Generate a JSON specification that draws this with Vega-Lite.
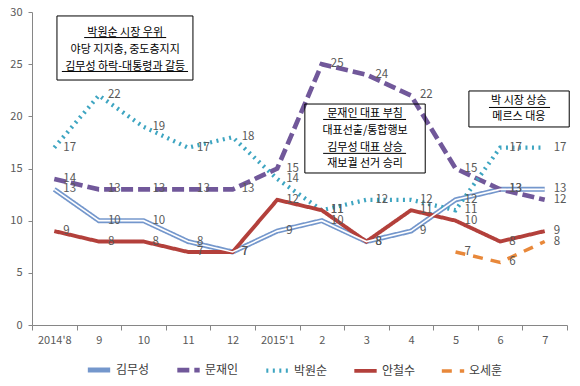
{
  "$schema": "https://vega.github.io/schema/vega-lite/v6.json",
  "width": 535,
  "height": 313,
  "autosize": {"type": "none"},
  "padding": {"left": 32, "top": 12, "right": 13, "bottom": 61},
  "config": {
    "view": {"stroke": null},
    "font": "Noto Sans CJK KR",
    "axis": {"domainColor": "#868686", "tickColor": "#868686", "labelColor": "#595959", "labelFontSize": 11, "grid": false, "labelFont": "Noto Sans CJK KR"},
    "legend": {"labelFont": "Noto Sans CJK KR", "labelFontSize": 12, "labelColor": "#404040", "symbolType": "stroke", "symbolSize": 500, "symbolStrokeWidth": 3, "columnPadding": 18, "labelOffset": 3, "orient": "none", "legendX": 53, "legendY": 344, "direction": "horizontal"}
  },
  "datasets": {
    "polls": [
      {"series": "김무성", "month": "2014'8", "value": 13}, {"series": "김무성", "month": "9", "value": 10}, {"series": "김무성", "month": "10", "value": 10}, {"series": "김무성", "month": "11", "value": 8}, {"series": "김무성", "month": "12", "value": 7}, {"series": "김무성", "month": "2015'1", "value": 9}, {"series": "김무성", "month": "2", "value": 10}, {"series": "김무성", "month": "3", "value": 8}, {"series": "김무성", "month": "4", "value": 9}, {"series": "김무성", "month": "5", "value": 12}, {"series": "김무성", "month": "6", "value": 13}, {"series": "김무성", "month": "7", "value": 13},
      {"series": "문재인", "month": "2014'8", "value": 14}, {"series": "문재인", "month": "9", "value": 13}, {"series": "문재인", "month": "10", "value": 13}, {"series": "문재인", "month": "11", "value": 13}, {"series": "문재인", "month": "12", "value": 13}, {"series": "문재인", "month": "2015'1", "value": 15}, {"series": "문재인", "month": "2", "value": 25}, {"series": "문재인", "month": "3", "value": 24}, {"series": "문재인", "month": "4", "value": 22}, {"series": "문재인", "month": "5", "value": 15}, {"series": "문재인", "month": "6", "value": 13}, {"series": "문재인", "month": "7", "value": 12},
      {"series": "박원순", "month": "2014'8", "value": 17}, {"series": "박원순", "month": "9", "value": 22}, {"series": "박원순", "month": "10", "value": 19}, {"series": "박원순", "month": "11", "value": 17}, {"series": "박원순", "month": "12", "value": 18}, {"series": "박원순", "month": "2015'1", "value": 14}, {"series": "박원순", "month": "2", "value": 11}, {"series": "박원순", "month": "3", "value": 12}, {"series": "박원순", "month": "4", "value": 12}, {"series": "박원순", "month": "5", "value": 11}, {"series": "박원순", "month": "6", "value": 17}, {"series": "박원순", "month": "7", "value": 17},
      {"series": "안철수", "month": "2014'8", "value": 9}, {"series": "안철수", "month": "9", "value": 8}, {"series": "안철수", "month": "10", "value": 8}, {"series": "안철수", "month": "11", "value": 7}, {"series": "안철수", "month": "12", "value": 7}, {"series": "안철수", "month": "2015'1", "value": 12}, {"series": "안철수", "month": "2", "value": 11}, {"series": "안철수", "month": "3", "value": 8}, {"series": "안철수", "month": "4", "value": 11}, {"series": "안철수", "month": "5", "value": 10}, {"series": "안철수", "month": "6", "value": 8}, {"series": "안철수", "month": "7", "value": 9},
      {"series": "오세훈", "month": "5", "value": 7}, {"series": "오세훈", "month": "6", "value": 6}, {"series": "오세훈", "month": "7", "value": 8}
    ],
    "boxes": [
      {"x": 0.06, "x2": 3.11, "y": 29.62, "y2": 23.48},
      {"x": 5.62, "x2": 8.32, "y": 21.18, "y2": 14.57},
      {"x": 9.3, "x2": 11.55, "y": 22.43, "y2": 18.98}
    ],
    "notes": [
      {"x": 1.59, "y": 28.0, "text": "박원순 시장 우위"},
      {"x": 1.59, "y": 26.4, "text": "야당 지지층, 중도층지지"},
      {"x": 1.59, "y": 24.75, "text": "김무성 하락-대통령과 갈등"},
      {"x": 6.97, "y": 20.25, "text": "문재인 대표 부침"},
      {"x": 6.97, "y": 18.6, "text": "대표선출/통합행보"},
      {"x": 6.97, "y": 16.95, "text": "김무성 대표 상승"},
      {"x": 6.97, "y": 15.4, "text": "재보궐 선거 승리"},
      {"x": 10.42, "y": 21.5, "text": "박 시장 상승"},
      {"x": 10.42, "y": 19.9, "text": "메르스 대응"}
    ],
    "underlines": [
      {"x": 0.67, "x2": 2.51, "y": 27.55},
      {"x": 0.17, "x2": 3.0, "y": 24.3},
      {"x": 6.03, "x2": 7.89, "y": 19.7},
      {"x": 6.03, "x2": 7.89, "y": 16.45},
      {"x": 9.75, "x2": 11.12, "y": 20.85}
    ]
  },
  "layer": [
    {
      "data": {"name": "polls"},
      "encoding": {
        "x": {"field": "month", "type": "ordinal", "sort": ["2014'8", "9", "10", "11", "12", "2015'1", "2", "3", "4", "5", "6", "7"], "scale": {"paddingInner": 0, "paddingOuter": 0}, "axis": {"title": null, "labelAngle": 0, "tickBand": "extent", "tickSize": 5, "labelPadding": 4}},
        "y": {"field": "value", "type": "quantitative", "scale": {"domain": [0, 30]}, "axis": {"title": null, "values": [0, 5, 10, 15, 20, 25, 30], "tickSize": 4, "labelPadding": 6}}
      },
      "layer": [
        {
          "mark": {"type": "line"},
          "encoding": {
            "color": {"field": "series", "type": "nominal", "scale": {"domain": ["김무성", "문재인", "박원순", "안철수", "오세훈"], "range": ["#7497cc", "#71589a", "#3ea5c1", "#b3403b", "#e8883a"]}, "legend": {"title": null}},
            "strokeDash": {"field": "series", "type": "nominal", "scale": {"domain": ["김무성", "문재인", "박원순", "안철수", "오세훈"], "range": [[1, 0], [12, 5], [2, 4.5], [1, 0], [10, 8]]}, "legend": {"title": null}},
            "strokeWidth": {"field": "series", "type": "nominal", "scale": {"domain": ["김무성", "문재인", "박원순", "안철수", "오세훈"], "range": [5, 3.5, 2.5, 3, 3]}, "legend": null}
          }
        },
        {
          "transform": [{"filter": "datum.series === '김무성'"}],
          "mark": {"type": "line", "strokeWidth": 1.6, "color": "white"},
          "encoding": {"detail": {"field": "series"}}
        },
        {
          "mark": {"type": "text", "align": "left", "baseline": "middle", "dx": 9, "fontSize": 11.5, "color": "#595959"},
          "encoding": {"text": {"field": "value", "type": "quantitative"}}
        }
      ]
    },
    {
      "data": {"name": "boxes"},
      "mark": {"type": "rect", "filled": false, "stroke": "black", "strokeWidth": 1, "clip": false},
      "encoding": {
        "x": {"field": "x", "type": "quantitative", "scale": {"domain": [-0.5, 11.5]}, "axis": null},
        "x2": {"field": "x2"},
        "y": {"field": "y", "type": "quantitative", "title": null},
        "y2": {"field": "y2"}
      }
    },
    {
      "data": {"name": "notes"},
      "mark": {"type": "text", "align": "center", "baseline": "middle", "fontSize": 11, "color": "black"},
      "encoding": {
        "x": {"field": "x", "type": "quantitative", "scale": {"domain": [-0.5, 11.5]}, "axis": null},
        "y": {"field": "y", "type": "quantitative", "title": null},
        "text": {"field": "text"}
      }
    },
    {
      "data": {"name": "underlines"},
      "mark": {"type": "rule", "color": "black", "strokeWidth": 1},
      "encoding": {
        "x": {"field": "x", "type": "quantitative", "scale": {"domain": [-0.5, 11.5]}, "axis": null},
        "x2": {"field": "x2"},
        "y": {"field": "y", "type": "quantitative", "title": null}
      }
    }
  ],
  "resolve": {"scale": {"x": "independent"}, "axis": {"x": "independent"}}
}
